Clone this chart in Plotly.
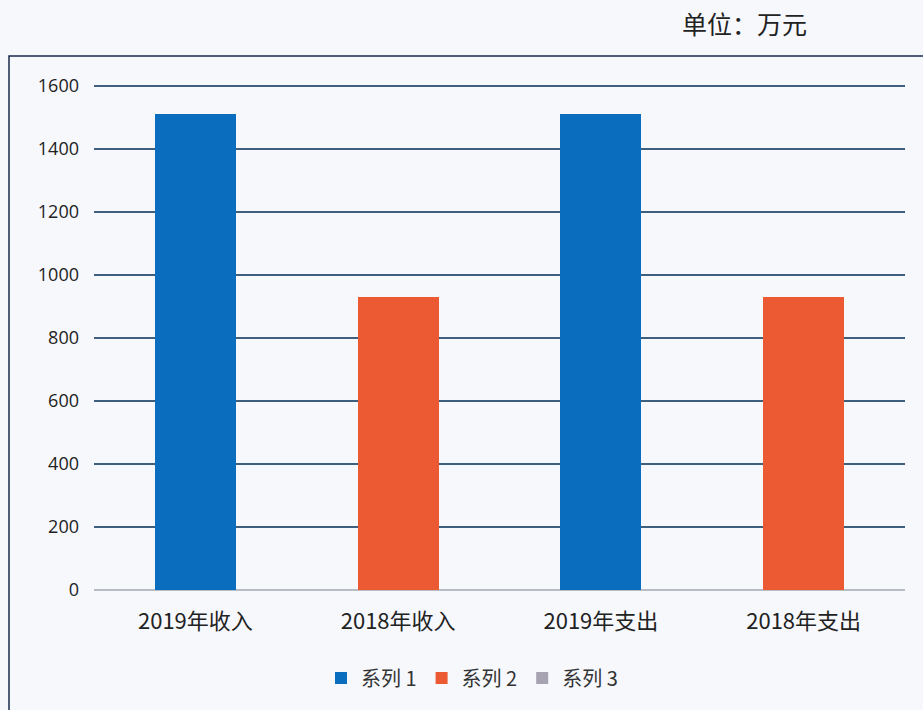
import plotly.graph_objects as go

categories = ["2019年收入", "2018年收入", "2019年支出", "2018年支出"]
series1 = [1510, None, 1510, None]
series2 = [None, 930, None, 930]
series3 = [None, None, None, None]
series_names = ["系列 1", "系列 2", "系列 3"]
y_ticks = [0, 200, 400, 600, 800, 1000, 1200, 1400, 1600]

colors = ["#0A6DBE", "#EC5A34", "#A8A3B0"]
W, H = 923, 710
L, R, T, B = 94, 18, 83, 120
pw, ph = W - L - R, H - T - B

fig = go.Figure()
for name, vals, c in zip(series_names, [series1, series2, series3], colors):
    fig.add_trace(go.Bar(x=categories, y=vals, name=name, marker_color=c,
                         marker_line_width=0, width=0.40))

def px(x):
    return (x - L) / pw

def py(y):
    return (H - B - y) / ph

fig.update_layout(
    width=W, height=H,
    margin=dict(l=L, r=R, t=T, b=B),
    barmode="stack",
    paper_bgcolor="#F6F8FC",
    plot_bgcolor="rgba(0,0,0,0)",
    font=dict(family="Open Sans, Noto Sans CJK SC", color="#222222"),
    showlegend=True,
    legend=dict(orientation="h", x=px(472), xanchor="center", y=py(678), yanchor="middle",
                font=dict(size=20, family="Noto Sans CJK SC", color="#333333"),
                bgcolor="rgba(0,0,0,0)", itemwidth=30, traceorder="normal"),
    xaxis=dict(showgrid=False, showline=False, zeroline=False,
               tickfont=dict(size=22, family="Noto Sans CJK SC", color="#222222"),
               ticks="outside", ticklen=12, tickcolor="rgba(0,0,0,0)"),
    yaxis=dict(range=[0, 1610], tickvals=y_ticks, showgrid=True,
               gridcolor="#3E5F7E", gridwidth=1.6, zeroline=True, zerolinecolor="#B8BCC4",
               zerolinewidth=1.5, showline=False,
               tickfont=dict(size=18, family="Open Sans", color="#222222"),
               ticklabelstandoff=14),
    shapes=[dict(type="rect", xref="paper", yref="paper",
                 x0=px(9), x1=px(W + 5), y0=py(H + 5), y1=py(56),
                 line=dict(color="#1A2A4A", width=1.5), fillcolor="rgba(0,0,0,0)", layer="below")],
    annotations=[dict(text="单位：万元", xref="paper", yref="paper", x=px(744), y=py(23),
                      xanchor="center", yanchor="middle", showarrow=False,
                      font=dict(size=25, family="Noto Sans CJK SC", color="#222222"))],
)
fig.write_html("out.html", config={"displayModeBar": False},
               post_script="document.body.style.margin='0';document.body.style.background='#F6F8FC';")
